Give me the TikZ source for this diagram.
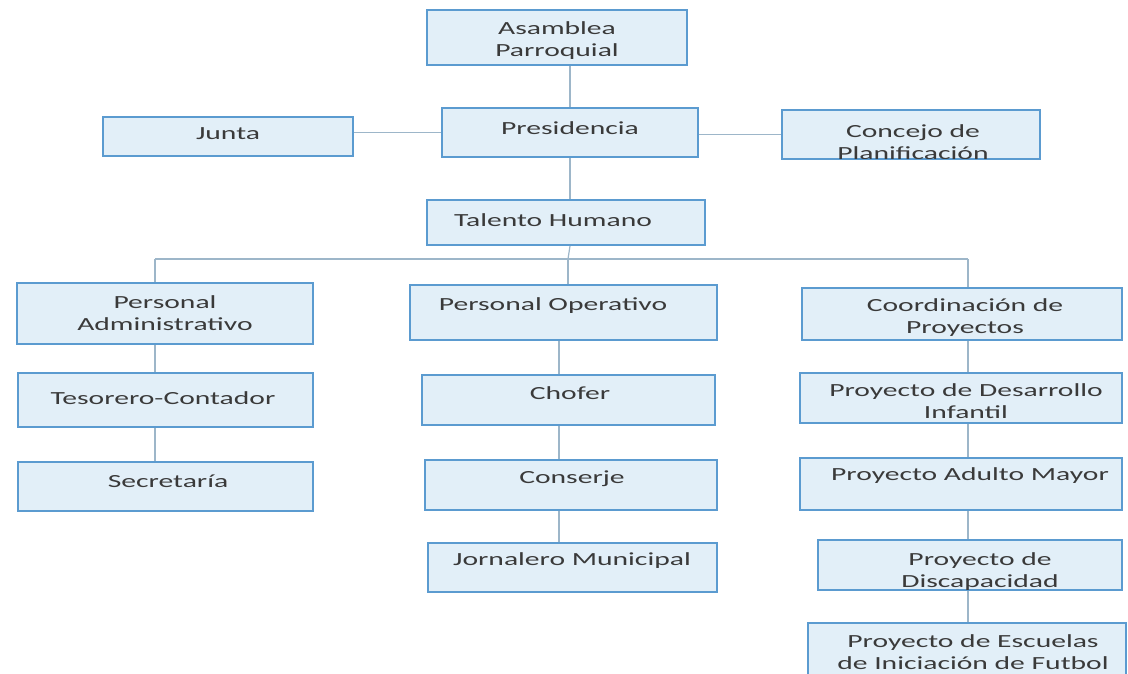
\documentclass[tikz,border=0pt]{standalone}
\usepackage{fontspec}
\setmainfont{Carlito}[FakeStretch=1.6]
\definecolor{boxline}{HTML}{5B9BD0}
\definecolor{boxfill}{HTML}{E2EFF8}
\definecolor{conn}{HTML}{9DB6C9}
\definecolor{txtc}{HTML}{3A3A3A}
\begin{document}
\begin{tikzpicture}[x=1pt,y=-1pt,
  box/.style={draw=boxline,line width=2pt,fill=boxfill,inner sep=0pt,rectangle},
  txt/.style={text=txtc,align=center,inner sep=0pt,font=\fontsize{18.5}{22}\selectfont},
  link/.style={draw=conn,line width=1.2pt}]
\useasboundingbox[fill=white] (0,0) rectangle (1128,673);
% boxes
\node[box,minimum width=260pt,minimum height=55pt] (asam) at (557,37.5) {};
\node[box,minimum width=256pt,minimum height=49pt] (pres) at (570,132.5) {};
\node[box,minimum width=250pt,minimum height=39pt] (junta) at (228,136.5) {};
\node[box,minimum width=258pt,minimum height=49pt] (conc) at (911,134.5) {};
\node[box,minimum width=278pt,minimum height=45pt] (tal) at (566,222.5) {};
\node[box,minimum width=296pt,minimum height=61pt] (padm) at (165,313.5) {};
\node[box,minimum width=307pt,minimum height=55pt] (pop) at (563.5,312.5) {};
\node[box,minimum width=320pt,minimum height=52pt] (coord) at (962,314) {};
\node[box,minimum width=295pt,minimum height=54pt] (teso) at (165.5,400) {};
\node[box,minimum width=295pt,minimum height=49pt] (secr) at (165.5,486.5) {};
\node[box,minimum width=293pt,minimum height=50pt] (chof) at (568.5,400) {};
\node[box,minimum width=292pt,minimum height=50pt] (cons) at (571,485) {};
\node[box,minimum width=289pt,minimum height=49pt] (jorn) at (572.5,567.5) {};
\node[box,minimum width=322pt,minimum height=50pt] (pdi) at (961,398) {};
\node[box,minimum width=322pt,minimum height=52pt] (pam) at (961,484) {};
\node[box,minimum width=304pt,minimum height=50pt] (pdis) at (970,565) {};
\node[box,minimum width=318pt,minimum height=67pt] (pesc) at (967,656.5) {};
% texts
\node[txt] (asam-t) at (557,41) {Asamblea\\Parroquial};
\node[txt] (pres-t) at (570,128) {Presidencia};
\node[txt] (junta-t) at (228,134) {Junta};
\begin{scope}
\clip (783,111) rectangle (1039,158);
\node[txt] (conc-t) at (913,142) {Concejo de\\Planificación};
\end{scope}
\node[txt] (tal-t) at (553,220) {Talento Humano};
\node[txt] (padm-t) at (165,313) {Personal\\Administrativo};
\node[txt] (pop-t) at (553,306) {Personal Operativo};
\node[txt] (coord-t) at (965,318) {Coordinación de\\Proyectos};
\node[txt] (teso-t) at (163,398) {Tesorero-Contador};
\node[txt] (secr-t) at (168,481) {Secretaría};
\node[txt] (chof-t) at (570,393) {Chofer};
\node[txt] (cons-t) at (572,479) {Conserje};
\node[txt] (jorn-t) at (572,561) {Jornalero Municipal};
\node[txt] (pdi-t) at (966,401) {Proyecto de Desarrollo\\Infantil};
\node[txt] (pam-t) at (970,476) {Proyecto Adulto Mayor};
\begin{scope}
\clip (819,541) rectangle (1121,589);
\node[txt] (pdis-t) at (980,572) {Proyecto de\\Discapacidad};
\end{scope}
\node[txt] (pesc-t) at (973,652) {Proyecto de Escuelas\\de Iniciación de Futbol};
% bus coordinates
\coordinate (busL) at (155,259);
\coordinate (busM) at (568,259);
\coordinate (busR) at (968,259);
% connectors
\draw[link] (asam.south -| pres.north) -- (pres.north);
\draw[link] (pres.west) -- (pres.west -| junta.east);
\draw[link] (conc.west) -- (conc.west -| pres.east);
\draw[link] (pres.south) -- (pres.south |- tal.north);
\draw[link] (tal.south -| pres.south) -- (busM);
\draw[link] (busL) -- (busR);
\draw[link] (busL) -- (busL |- padm.north);
\draw[link] (busM) -- (busM |- pop.north);
\draw[link] (busR) -- (busR |- coord.north);
\draw[link] (padm.south -| busL) -- (busL |- teso.north);
\draw[link] (teso.south -| busL) -- (busL |- secr.north);
\coordinate (midx) at (559,0);
\draw[link] (pop.south -| midx) -- (midx |- chof.north);
\draw[link] (chof.south -| midx) -- (midx |- cons.north);
\draw[link] (cons.south -| midx) -- (midx |- jorn.north);
\draw[link] (coord.south -| busR) -- (busR |- pdi.north);
\draw[link] (pdi.south -| busR) -- (busR |- pam.north);
\draw[link] (pam.south -| busR) -- (busR |- pdis.north);
\draw[link] (pdis.south -| busR) -- (busR |- pesc.north);
\end{tikzpicture}
\end{document}
